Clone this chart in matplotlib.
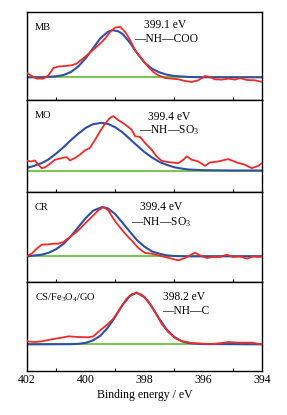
import matplotlib
matplotlib.use("Agg")
import matplotlib.pyplot as plt
from matplotlib.ticker import FixedLocator

plt.rcParams['font.family'] = ['Liberation Serif', 'DejaVu Serif']
plt.rcParams['mathtext.fontset'] = 'custom'
plt.rcParams['mathtext.rm'] = 'Liberation Serif'
plt.rcParams['mathtext.it'] = 'Liberation Serif:italic'

# ---------------- data (binding energy in eV, intensity in a.u.) ----------------
samples = ["MB", "MO", "CR", "CS/Fe$_\\mathregular{3}$O$_\\mathregular{4}$/GO"]
peak_labels = ["399.1 eV", "399.4 eV", "399.4 eV", "398.2 eV"]
bond_labels = ["—NH—COO", "—NH—SO$_\\mathregular{3}$", "—NH—SO$_\\mathregular{3}$", "—NH—C"]

# MB
mb_raw_e = [402.00, 401.84, 401.67, 401.44, 401.27, 401.10, 400.93, 400.71, 400.48, 400.31,
            400.03, 399.80, 399.57, 399.34, 399.17, 399.00, 398.83, 398.66, 398.49, 398.32,
            398.10, 397.87, 397.70, 397.53, 397.30, 397.07, 396.85, 396.62, 396.39, 396.17,
            395.94, 395.77, 395.60, 395.37, 395.15, 394.92, 394.75, 394.52, 394.24, 394.00]
mb_raw_i = [81, 72, 64, 64, 74, 96, 100, 102, 104, 109,
            129, 146, 164, 184, 204, 217, 219, 204, 179, 149,
            124, 99, 84, 74, 66, 64, 62, 57, 54, 59,
            72, 69, 62, 61, 64, 61, 66, 60, 59, 54]
mb_fit_e = [402.0, 401.5, 401.0, 400.75, 400.5, 400.25, 400.0, 399.75, 399.5, 399.25, 399.09,
            398.9, 398.75, 398.5, 398.25, 398.0, 397.75, 397.5, 397.25, 397.0, 396.5, 396.0, 395.0, 394.0]
mb_fit_i = [68, 68, 71, 75, 84, 101, 125, 155, 185, 204, 209,
            206, 198, 172, 140, 112, 94, 83, 76, 72, 69, 68, 68, 68]
mb_base = [68, 68]

# MO
mo_raw_e = [402.00, 401.84, 401.73, 401.61, 401.50, 401.39, 401.22, 401.05, 400.82, 400.65,
            400.54, 400.37, 400.20, 400.03, 399.86, 399.68, 399.51, 399.34, 399.17, 399.06,
            398.89, 398.66, 398.44, 398.32, 398.15, 397.98, 397.76, 397.59, 397.42, 397.19,
            396.85, 396.68, 396.56, 396.39, 396.17, 395.94, 395.77, 395.49, 395.15, 394.86,
            394.58, 394.35, 394.12, 394.00]
mo_raw_i = [93, 91, 94, 81, 71, 73, 84, 96, 101, 104,
            94, 101, 111, 124, 131, 156, 181, 204, 221, 226,
            214, 201, 186, 166, 164, 146, 126, 106, 93, 89,
            86, 96, 106, 96, 91, 78, 88, 91, 98, 88,
            81, 71, 78, 86]
mo_fit_e = [402.0, 401.75, 401.5, 401.25, 401.0, 400.75, 400.5, 400.25, 400.0, 399.75, 399.46,
            399.25, 399.0, 398.75, 398.5, 398.25, 398.0, 397.75, 397.5, 397.25, 397.0, 396.75,
            396.5, 396.0, 395.0, 394.0]
mo_fit_i = [72, 78, 86, 98, 115, 134, 155, 174, 191, 202, 206,
            203, 193, 178, 158, 138, 119, 103, 90, 81, 74, 70,
            67, 65, 64, 64]
mo_base = [64, 64]

# CR
cr_raw_e = [402.00, 401.84, 401.67, 401.50, 401.27, 401.10, 400.93, 400.76, 400.54, 400.25,
            400.03, 399.80, 399.57, 399.40, 399.23, 399.06, 398.89, 398.66, 398.44, 398.21,
            397.98, 397.76, 397.53, 397.30, 397.07, 396.85, 396.62, 396.45, 396.28, 396.11,
            395.88, 395.66, 395.43, 395.20, 394.98, 394.75, 394.52, 394.29, 394.12, 394.00]
cr_raw_i = [78, 85, 100, 112, 113, 115, 115, 120, 135, 155,
            175, 195, 215, 225, 215, 190, 170, 145, 125, 102,
            87, 85, 80, 75, 70, 65, 72, 80, 88, 80,
            72, 75, 75, 82, 75, 77, 70, 77, 75, 77]
cr_fit_e = [402.0, 401.5, 401.25, 401.0, 400.75, 400.5, 400.25, 400.0, 399.75, 399.44,
            399.25, 399.0, 398.75, 398.5, 398.25, 398.0, 397.75, 397.5, 397.25, 397.0, 396.5, 394.0]
cr_fit_i = [77, 82, 88, 99, 115, 138, 165, 192, 214, 225,
            221, 204, 178, 151, 125, 106, 92, 85, 80, 78, 77, 77]
cr_base = [77, 77]

# CS/Fe3O4/GO
cs_raw_e = [402.00, 401.73, 401.50, 401.16, 400.82, 400.59, 400.25, 399.91, 399.74, 399.51,
            399.23, 399.06, 398.83, 398.61, 398.44, 398.27, 398.10, 397.87, 397.64, 397.42,
            397.19, 396.96, 396.73, 396.39, 396.05, 395.71, 395.37, 395.15, 394.81, 394.35, 394.00]
cs_raw_i = [89, 87, 89, 95, 100, 104, 102, 101, 104, 122,
            142, 157, 187, 217, 230, 234, 229, 209, 177, 142,
            117, 99, 89, 84, 82, 81, 84, 87, 85, 85, 80]
cs_fit_e = [402.0, 400.5, 400.25, 400.0, 399.75, 399.5, 399.25, 399.0, 398.75, 398.5, 398.27,
            398.0, 397.75, 397.5, 397.25, 397.0, 396.75, 396.5, 396.25, 396.0, 394.0]
cs_fit_i = [80, 80.5, 81.5, 84.5, 92, 106, 130, 162, 198, 225, 235,
            222, 193, 157, 125, 103, 90, 84, 82, 81, 80]
cs_base = [80, 80]

raw_e = [mb_raw_e, mo_raw_e, cr_raw_e, cs_raw_e]
raw_i = [mb_raw_i, mo_raw_i, cr_raw_i, cs_raw_i]
fit_e = [mb_fit_e, mo_fit_e, cr_fit_e, cs_fit_e]
fit_i = [mb_fit_i, mo_fit_i, cr_fit_i, cs_fit_i]
bases = [mb_base, mo_base, cr_base, cs_base]
base_e = [402, 394]
panel_top = [262, 274, 270, 267]

x_ticks = [402, 400, 398, 396, 394]
x_minor = [401, 399, 397, 395]

# ---------------- layout ----------------
RED = "#ee2a2a"
BLUE = "#2f4fa6"
GREEN = "#6cc43c"

fig = plt.figure(figsize=(2.87, 4.15), dpi=100)
L, R = 27 / 287, 262 / 287
top_px, bottom_px = 12.5, 371
gs = fig.add_gridspec(4, 1, left=L, right=R, top=1 - top_px / 415, bottom=1 - bottom_px / 415,
                      hspace=0, height_ratios=[87.5, 92, 90, 89])

txt_pos = [
    ((0.034, 0.83), (0.587, 0.855), (0.591, 0.70)),
    ((0.034, 0.835), (0.606, 0.815), (0.604, 0.672)),
    ((0.034, 0.83), (0.572, 0.83), (0.572, 0.665)),
    ((0.034, 0.82), (0.67, 0.83), (0.677, 0.672)),
]

axes = []
for k in range(4):
    ax = fig.add_subplot(gs[k])
    axes.append(ax)
    ax.plot(base_e, bases[k], color=GREEN, lw=1.3, zorder=1)
    ax.plot(fit_e[k], fit_i[k], color=BLUE, lw=1.5, zorder=2)
    ax.plot(raw_e[k], raw_i[k], color=RED, lw=1.3, zorder=3)
    ax.set_xlim(402, 394)
    ax.set_ylim(0, panel_top[k])
    ax.set_yticks([])
    for s in ax.spines.values():
        s.set_linewidth(1.0)
    ax.xaxis.set_major_locator(FixedLocator(x_ticks))
    ax.xaxis.set_minor_locator(FixedLocator(x_minor))
    ax.tick_params(axis='x', which='major', direction='in', length=0, labelsize=8.5, pad=2)
    ax.tick_params(axis='x', which='minor', direction='in', length=2.5, width=0.8)
    if k < 3:
        ax.tick_params(axis='x', which='both', labelbottom=False)
    (p1, p2, p3) = txt_pos[k]
    ax.text(p1[0], p1[1], samples[k], transform=ax.transAxes, fontsize=7.5,
            ha='left', va='center')
    ax.text(p2[0], p2[1], peak_labels[k], transform=ax.transAxes, fontsize=8.3,
            ha='center', va='center')
    ax.text(p3[0], p3[1], bond_labels[k], transform=ax.transAxes, fontsize=8.3,
            ha='center', va='center')

axes[-1].set_xlabel("Binding energy / eV", fontsize=8.5, labelpad=2)

fig.savefig("out.png", dpi=100)
